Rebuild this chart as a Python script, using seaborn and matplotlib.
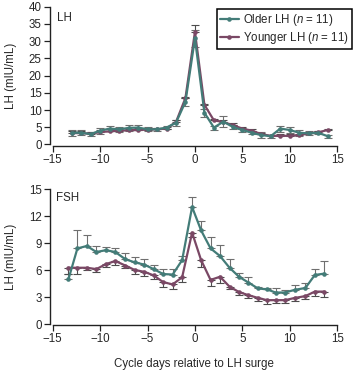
import matplotlib
matplotlib.use("Agg")
import matplotlib.pyplot as plt
import numpy as np
import pandas as pd
import seaborn as sns

# LH panel
lh_days = [-13, -12, -11, -10, -9, -8, -7, -6, -5, -4, -3, -2, -1, 0,
           1, 2, 3, 4, 5, 6, 7, 8, 9, 10, 11, 12, 13, 14]
older_lh = [3.4, 3.4, 3.0, 4.0, 4.6, 4.4, 4.8, 4.9, 4.4, 4.4, 4.9, 6.3, 12.4, 30.8,
            9.2, 4.9, 6.6, 5.1, 4.2, 3.4, 2.7, 2.4, 4.6, 4.2, 3.4, 3.2, 3.4, 2.4]
older_lh_err = [0.9, 0.7, 0.6, 0.9, 0.8, 0.8, 0.9, 0.8, 0.6, 0.5, 0.5, 0.9, 1.2, 2.4,
                1.2, 0.6, 1.6, 0.6, 0.5, 0.4, 0.9, 0.4, 0.9, 0.9, 0.9, 0.6, 0.4, 0.4]
younger_lh = [3.3, 3.3, 3.1, 3.6, 3.8, 4.0, 4.1, 4.2, 4.3, 4.4, 4.6, 6.5, 13.5, 32.7,
              11.5, 7.0, 6.5, 5.6, 4.6, 4.0, 3.0, 2.5, 2.5, 2.5, 2.7, 3.2, 3.5, 4.2]
younger_lh_err = [0.5, 0.5, 0.4, 0.5, 0.6, 0.5, 0.5, 0.5, 0.4, 0.4, 0.4, 0.6, 0.4, 2.0,
                  0.3, 0.4, 0.5, 0.5, 0.4, 0.4, 0.4, 0.3, 0.5, 0.5, 0.4, 0.4, 0.4, 0.4]

# FSH panel
fsh_days = [-13.35, -12.4, -11.4, -10.4, -9.4, -8.4, -7.35, -6.35, -5.35, -4.35,
            -3.35, -2.35, -1.35, -0.3, 0.65, 1.65, 2.65, 3.65, 4.65, 5.65, 6.65,
            7.6, 8.5, 9.5, 10.55, 11.65, 12.65, 13.65]
older_fsh = [4.96, 8.4, 8.67, 8.0, 8.2, 8.0, 7.2, 6.85, 6.6, 6.1, 5.55, 5.5, 7.1, 13.0,
             10.4, 8.4, 7.55, 6.25, 5.25, 4.6, 3.95, 3.85, 3.5, 3.5, 3.8, 4.0, 5.45, 5.6]
older_fsh_err = [0.6, 2.1, 1.25, 0.67, 0.4, 0.5, 0.65, 0.55, 0.6, 0.45, 0.6, 0.65, 0.5, 1.15,
                 1.1, 1.3, 1.2, 0.95, 0.45, 0.6, 0.2, 0.2, 0.45, 0.25, 0.5, 0.6, 0.7, 1.4]
younger_fsh = [6.25, 6.25, 6.25, 6.1, 6.65, 7.0, 6.5, 6.0, 5.8, 5.4, 4.65, 4.4, 5.2, 10.15,
               7.1, 4.9, 5.25, 4.15, 3.55, 3.2, 2.9, 2.65, 2.65, 2.65, 2.9, 3.1, 3.6, 3.6]
younger_fsh_err = [0.7, 0.7, 0.3, 0.3, 0.3, 0.45, 0.3, 0.45, 0.5, 0.4, 0.5, 0.5, 0.55, 0.5,
                   0.8, 0.7, 0.65, 0.3, 0.3, 0.35, 0.3, 0.45, 0.35, 0.35, 0.3, 0.35, 0.5, 0.6]

TEAL = "#437c78"
PURPLE = "#7a4865"
ERR = "#4d4d4d"


def panel(ax, days, older, older_err, younger, younger_err, lh=True):
    zeros = [0] * len(days)
    if lh:
        ax.errorbar(days, older, yerr=older_err, fmt="none", ecolor="#6f6f6f",
                    elinewidth=0.8, capsize=3, capthick=0.8, zorder=1)
        ax.errorbar(days, younger, yerr=[zeros, younger_err], fmt="none",
                    ecolor=ERR, elinewidth=0.8, capsize=3, capthick=0.8, zorder=1)
    else:
        ax.errorbar(days, older, yerr=[zeros, older_err], fmt="none",
                    ecolor="#6f6f6f", elinewidth=0.8, capsize=3, capthick=0.8, zorder=1)
        ax.errorbar(days, younger, yerr=[younger_err, zeros], fmt="none",
                    ecolor=ERR, elinewidth=0.8, capsize=3, capthick=0.8, zorder=1)
    sns.lineplot(x=days, y=younger, color=PURPLE, marker="o", markersize=3.3,
                 markeredgewidth=0, linewidth=1.6, ax=ax,
                 label="Younger LH ($n$ = 11)", zorder=3)
    sns.lineplot(x=days, y=older, color=TEAL, marker="o", markersize=3.3,
                 markeredgewidth=0, linewidth=1.6, ax=ax,
                 label="Older LH ($n$ = 11)", zorder=4)


def main():
    sns.set_style("ticks")
    plt.rcParams["font.family"] = ["Liberation Sans", "DejaVu Sans"]
    plt.rcParams["mathtext.fontset"] = "custom"
    plt.rcParams["mathtext.it"] = "Liberation Sans:italic"
    plt.rcParams["mathtext.rm"] = "Liberation Sans"
    fs = 8.3

    fig = plt.figure(figsize=(3.54, 3.72), dpi=100)
    ax1 = fig.add_axes([0.141, 0.608, 0.814, 0.374])
    ax2 = fig.add_axes([0.141, 0.1266, 0.814, 0.3653])

    panel(ax1, lh_days, older_lh, older_lh_err, younger_lh, younger_lh_err, lh=True)
    panel(ax2, fsh_days, older_fsh, older_fsh_err, younger_fsh, younger_fsh_err, lh=False)

    for ax in (ax1, ax2):
        ax.set_xlim(-15.3, 15.1)
        ax.set_xticks(np.arange(-15, 16, 5))
        ax.set_xticklabels(["\u221215", "\u221210", "\u22125", "0", "5", "10", "15"])
        ax.tick_params(labelsize=fs, length=4, width=0.9, pad=2, color="#222222")
        for s in ("left", "bottom"):
            ax.spines[s].set_linewidth(1.0)
            ax.spines[s].set_color("#222222")
        ax.set_ylabel("LH (mIU/mL)", fontsize=fs)
        ax.yaxis.set_label_coords(-0.114, 0.5)
        ax.set_xlabel("")
    sns.despine(fig=fig)

    ax1.set_ylim(-0.4, 40)
    ax1.set_yticks(np.arange(0, 41, 5))
    ax1.spines["left"].set_bounds(0, 40)
    ax1.spines["bottom"].set_bounds(-15, 15)
    ax2.set_ylim(-0.1, 15)
    ax2.set_yticks(np.arange(0, 16, 3))
    ax2.spines["left"].set_bounds(0, 15)
    ax2.spines["bottom"].set_bounds(-15, 15)

    ax1.text(0.025, 0.965, "LH", transform=ax1.transAxes, fontsize=fs, va="top")
    ax2.text(0.021, 0.975, "FSH", transform=ax2.transAxes, fontsize=fs, va="top")
    ax2.set_xlabel("Cycle days relative to LH surge", fontsize=fs)
    ax2.xaxis.set_label_coords(0.5, -0.245)

    handles, labels = ax1.get_legend_handles_labels()
    order = [labels.index("Older LH ($n$ = 11)"), labels.index("Younger LH ($n$ = 11)")]
    leg = ax1.legend([handles[i] for i in order], [labels[i] for i in order],
                     loc="upper right", bbox_to_anchor=(1.058, 1.0), fontsize=fs,
                     frameon=True, fancybox=False, edgecolor="black", framealpha=1,
                     handlelength=1.6, handletextpad=0.4, borderpad=0.3,
                     labelspacing=0.1, borderaxespad=0.2)
    leg.get_frame().set_linewidth(1.1)
    if ax2.get_legend():
        ax2.get_legend().remove()

    fig.savefig("out.png", dpi=100)


if __name__ == "__main__":
    main()
